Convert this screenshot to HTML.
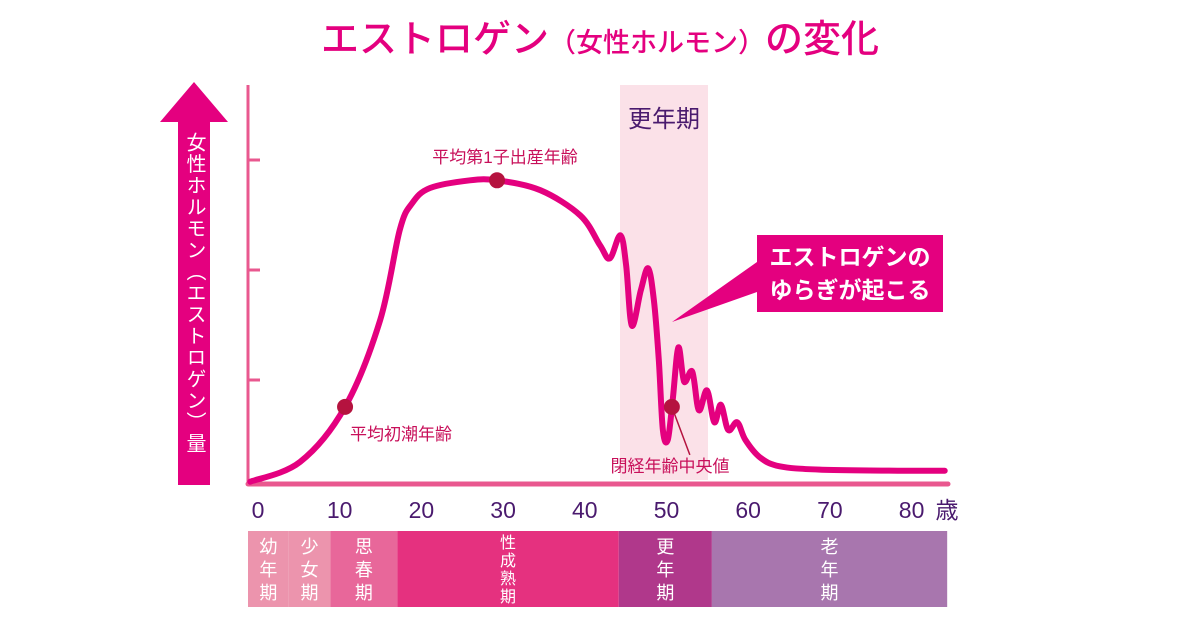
<!DOCTYPE html>
<html><head><meta charset="utf-8"><style>
body{margin:0;background:#fff;width:1200px;height:630px;overflow:hidden}
svg{display:block;font-family:"Liberation Sans","Noto Sans CJK JP",sans-serif}
</style></head><body>
<svg id="chart" width="1200" height="630" viewBox="0 0 1200 630">
<text x="600" y="52" text-anchor="middle" fill="#e4007f" font-size="38" font-weight="500">エストロゲン<tspan font-size="27">（女性ホルモン）</tspan>の変化</text>
<rect x="620" y="85" width="88" height="395" fill="#fbe1e8"/>
<text x="664" y="127" text-anchor="middle" fill="#4a1a6e" font-size="24">更年期</text>
<g id="yaxis">
<line x1="248" y1="85" x2="248" y2="485" stroke="#e9588f" stroke-width="3"/>
</g>
<polygon points="194,82 228,122 210,122 210,485 178,485 178,122 160,122" fill="#e4007f"/>
<text x="194" y="132" fill="#fff" font-size="20" style="writing-mode:vertical-rl;text-orientation:upright" letter-spacing="1.5">女性ホルモン（エストロゲン）量</text>
<g id="xaxis"></g>
<g id="bands"></g>
<path id="curve" fill="none" stroke="#e4007f" stroke-width="6" stroke-linejoin="round" stroke-linecap="round"/>
<polygon points="757,262 757,292 672,322" fill="#e4007f"/>
<rect x="757" y="235" width="186" height="77" fill="#e4007f"/>
<text x="850" y="265" text-anchor="middle" fill="#fff" font-size="23" font-weight="bold">エストロゲンの</text>
<text x="850" y="298" text-anchor="middle" fill="#fff" font-size="23" font-weight="bold">ゆらぎが起こる</text>
<g id="marks"></g>
</svg>
<script>
const ages=[-0.7,5.4,10.9,15.2,17.6,19.1,21.3,26.2,29.5,34.8,39.7,42.1,43.3,44.6,45.3,46.0,47.1,48.0,48.7,49.3,49.8,50.4,51.0,51.7,52.4,53.4,54.2,55.2,56.1,56.9,57.8,58.9,59.9,61.7,64.1,69.0,78.8,84.3];
const levels=[0.03,0.21,0.71,1.5,2.32,2.56,2.7,2.77,2.77,2.68,2.45,2.18,2.06,2.27,2.0,1.45,1.77,1.97,1.68,1.14,0.5,0.41,0.77,1.25,0.94,1.03,0.68,0.86,0.57,0.73,0.5,0.57,0.41,0.25,0.17,0.14,0.13,0.13];
const tickLabels=[0,10,20,30,40,50,60,70,80];
const yTicks=[1,2,3];
const eventAges=[10.9,29.5,50.9];
const eventNames=["平均初潮年齢","平均第1子出産年齢","閉経年齢中央値"];
const stageNames=["幼年期","少女期","思春期","性成熟期","更年期","老年期"];
const stageStarts=[-1,4,9.1,17.3,44.4,55.8];
const stageEnds=[4,9.1,17.3,44.4,55.8,84.6];
const NS="http://www.w3.org/2000/svg";
const X=a=>256+8.17*a, Y=v=>485-110*v;
function el(t,a,p){const e=document.createElementNS(NS,t);for(const k in a)e.setAttribute(k,a[k]);p.appendChild(e);return e;}
const ya=document.getElementById('yaxis');
yTicks.forEach(v=>{const t=el('line',{x1:248,x2:260,y1:Y(v)+5,y2:Y(v)+5,stroke:'#e9588f','stroke-width':3},ya);

});
const xa=document.getElementById('xaxis');
el('line',{x1:248,x2:948,y1:484,y2:484,stroke:'#e9588f','stroke-width':5,'stroke-linecap':'round'},xa);
tickLabels.forEach(a=>{const t=el('text',{x:X(a)+2,y:518,'text-anchor':'middle',fill:'#4a1a6e','font-size':23},xa);t.textContent=a;

});
const u=el('text',{x:947,y:518,'text-anchor':'middle',fill:'#4a1a6e','font-size':23},xa);u.textContent='歳';


const colors=['#ec94ad','#ec94ad','#e8679a','#e5317f','#b0388b','#a876ae'];
const bg=document.getElementById('bands');
stageNames.forEach((n,i)=>{const x1=Math.max(248,X(stageStarts[i])),x2=X(stageEnds[i]);
const r=el('rect',{x:x1,y:531,width:x2-x1,height:76,fill:colors[i]},bg);


const cs=[...n],sp=cs.length>3?18:23,fs=cs.length>3?16:18,y0=569-sp*(cs.length-1)/2+fs*0.38;
const cx=(x1+x2)/2;cs.forEach((c,j)=>{const t=el('text',{x:cx,y:y0+j*sp,'text-anchor':'middle',fill:'#fff','font-size':fs},bg);t.textContent=c;

});});
const P=ages.map((a,i)=>[X(a),Y(levels[i])]);
let d='M'+P[0][0]+','+P[0][1];
for(let i=0;i<P.length-1;i++){const p0=P[Math.max(0,i-1)],p1=P[i],p2=P[i+1],p3=P[Math.min(P.length-1,i+2)];
d+=` C${p1[0]+(p2[0]-p0[0])/6},${p1[1]+(p2[1]-p0[1])/6} ${p2[0]-(p3[0]-p1[0])/6},${p2[1]-(p3[1]-p1[1])/6} ${p2[0]},${p2[1]}`;}
document.getElementById('curve').setAttribute('d',d);
function levelAt(a){for(let i=0;i<ages.length-1;i++)if(a>=ages[i]&&a<=ages[i+1]){const t=(a-ages[i])/(ages[i+1]-ages[i]);return levels[i]+t*(levels[i+1]-levels[i]);}return 0;}
const mg=document.getElementById('marks');
const lblPos=[[350,440,'start'],[505,163,'middle'],[670,472,'middle']];
eventAges.forEach((a,i)=>{const cx=X(a),cy=Y(levelAt(a));
if(i==2){const l=el('line',{x1:cx,y1:cy,x2:cx+18,y2:cy+48,stroke:'#b5133f','stroke-width':1.5},mg);

}
const c=el('circle',{cx:cx,cy:cy,r:8,fill:'#b5133f'},mg);


const t=el('text',{x:lblPos[i][0],y:lblPos[i][1],'text-anchor':lblPos[i][2],fill:'#c8105a','font-size':17},mg);t.textContent=eventNames[i];

});
</script>
</body></html>
